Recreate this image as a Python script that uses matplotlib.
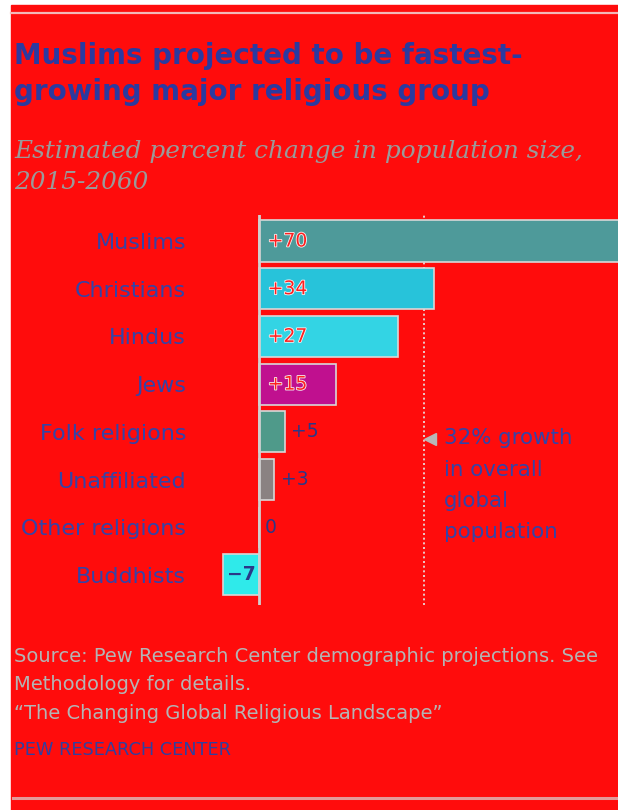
import matplotlib
matplotlib.use("Agg")
import matplotlib.pyplot as plt
import matplotlib.patheffects as pe
from matplotlib.patches import Rectangle
from matplotlib.lines import Line2D

# percent change in population size, 2015-2060
groups = ["Muslims", "Christians", "Hindus", "Jews", "Folk religions",
          "Unaffiliated", "Other religions", "Buddhists"]
change = [70, 34, 27, 15, 5, 3, 0, -7]
labels = ["+70", "+34", "+27", "+15", "+5", "+3", "0", "\u22127"]
colors = ["#4e9a9a", "#27c3da", "#33d4e4", "#c0108f", "#4f9a8a",
          "#8a8282", "#8a8282", "#2feaea"]
world_growth = 32

W, H = 618, 810
RED = "#ff0c0c"
BLUE = "#2b3aa0"
GRAY = "#b4b4b4"

fig = plt.figure(figsize=(W / 100, H / 100), dpi=100, facecolor="white")

# red panel and the two rules
fig.patches.append(Rectangle((11 / W, 0), 1.1, 1 - 5 / H,
                             transform=fig.transFigure, color=RED, zorder=-5))
fig.add_artist(Line2D([11 / W, 1], [1 - 13 / H] * 2, color="#f2b8b8", lw=1.6))
fig.add_artist(Line2D([13 / W, 1], [1 - 798 / H] * 2, color="#e39a9a", lw=2.2))

fig.text(14 / W, 1 - 74 / H, "Muslims projected to be fastest-\ngrowing major religious group",
         ha="left", va="center", fontsize=20, fontweight="bold", color=BLUE,
         linespacing=1.4)
fig.text(14 / W, 1 - 167 / H, "Estimated percent change in population size,\n2015-2060",
         ha="left", va="center", fontsize=17.8, style="italic", family="DejaVu Serif",
         color="#9a9a9a", linespacing=1.45)

# bar area
ax_left, ax_right, ax_top, ax_bot = 200, 618, 215, 605
ax = fig.add_axes([ax_left / W, 1 - ax_bot / H, (ax_right - ax_left) / W,
                   (ax_bot - ax_top) / H])
ax.set_facecolor("none")
ax.set_xlim(-11.47, 69.8)
ax.set_ylim(7.63, -0.545)

y = list(range(len(groups)))
ax.barh(y, change, height=0.86, color=colors, edgecolor="#d8d8d8", lw=1.2,
        zorder=2, clip_on=True)
ax.axvline(0, color="#d0d0d0", lw=2, zorder=3)
ax.axvline(world_growth, color="#e8e8e8", lw=1.2, ls=(0, (1.2, 1.6)), zorder=1)

for yi, v, lab in zip(y, change, labels):
    if v >= 10:
        ax.text(1.7, yi, lab, ha="left", va="center", fontsize=13.5, color="#ff2020",
                path_effects=[pe.withStroke(linewidth=1.2, foreground="#f4f4f4")],
                zorder=4)
    elif v < 0:
        ax.text(v / 2, yi, lab, ha="center", va="center", fontsize=13.5,
                fontweight="bold", color="#2a3888", zorder=4)
    else:
        ax.text(v + 1.2, yi, lab, ha="left", va="center", fontsize=13.5,
                color="#2a3888", zorder=4)

ax.set_yticks(y)
ax.set_yticklabels(groups, fontsize=16, color="#3444a8")
ax.tick_params(axis="y", length=0, pad=10)
ax.set_xticks([])
for s in ax.spines.values():
    s.set_visible(False)

# world growth note
ax.plot([world_growth + 1.3], [4.15], marker="<", ms=8, color="#b8b8b8", zorder=4)
ax.text(world_growth + 4.0, 3.93, "32% growth\nin overall\nglobal\npopulation",
        ha="left", va="top", fontsize=15.4, color="#3444a8", linespacing=1.7,
        transform=ax.transData)

fig.text(14 / W, 1 - 685 / H, "Source: Pew Research Center demographic projections. See\n"
         "Methodology for details.\n\u201cThe Changing Global Religious Landscape\u201d",
         ha="left", va="center", fontsize=14, color=GRAY, linespacing=1.62)
fig.text(14 / W, 1 - 750 / H, "PEW RESEARCH CENTER", ha="left", va="center",
         fontsize=12.8, color="#3040a0")

fig.savefig("out.png", dpi=100, facecolor="white")
